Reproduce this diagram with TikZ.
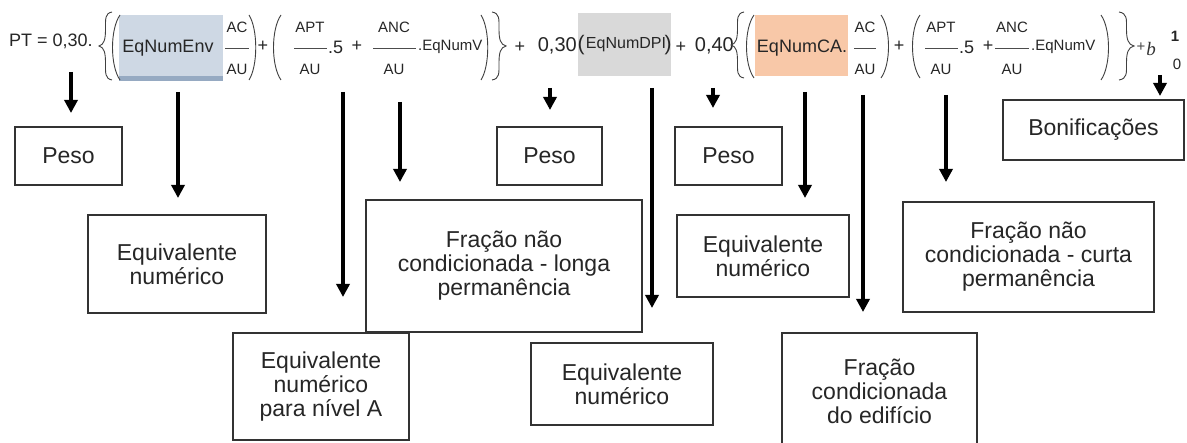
\documentclass[tikz,border=0pt]{standalone}
\usepackage{fontspec}
\setmainfont{Liberation Sans}
\newfontfamily\serifit{Liberation Serif}
\usetikzlibrary{arrows.meta}
\newcommand\drawBrace[4]{% tip x, open x, top, bottom
  \draw[delim] (#2,#3)
    .. controls ({#1+0.45*(#2-#1)},{#3+0.02*(#4-#3)}) and ({#1+0.5*(#2-#1)},{#3+0.1*(#4-#3)}) .. ({#1+0.5*(#2-#1)},{#3+0.25*(#4-#3)})
    .. controls ({#1+0.5*(#2-#1)},{#3+0.4*(#4-#3)}) and ({#1+0.4*(#2-#1)},{#3+0.48*(#4-#3)}) .. (#1,{(#3+#4)/2})
    .. controls ({#1+0.4*(#2-#1)},{#3+0.52*(#4-#3)}) and ({#1+0.5*(#2-#1)},{#3+0.6*(#4-#3)}) .. ({#1+0.5*(#2-#1)},{#3+0.75*(#4-#3)})
    .. controls ({#1+0.5*(#2-#1)},{#3+0.9*(#4-#3)}) and ({#1+0.45*(#2-#1)},{#3+0.98*(#4-#3)}) .. (#2,#4);}
\newcommand\drawParen[4]{% bulge x, end x, top, bottom
  \draw[delim] (#2,#3) .. controls (#1,{#3+0.22*(#4-#3)}) and (#1,{#4-0.22*(#4-#3)}) .. (#2,#4);}
\begin{document}
\begin{tikzpicture}[x=1pt,y=-1pt,
  lbl/.style={draw=black!80, line width=1.2pt, align=center,
    font=\fontsize{23}{24}\selectfont, text=black!85, inner sep=0pt},
  eq/.style={inner sep=0pt, font=\fontsize{18}{18}\selectfont, text=black!85},
  eqb/.style={inner sep=0pt, font=\fontsize{20}{20}\selectfont, text=black!85},
  eqs/.style={inner sep=0pt, font=\fontsize{15}{15}\selectfont, text=black!85},
  fr/.style={inner sep=0pt, font=\fontsize{15}{15}\selectfont, text=black!85},
  fracline/.style={line width=0.8pt, draw=black!70},
  arr/.style={line width=3.5pt, draw=black, -{Triangle[width=13pt,length=13pt]}},
  delim/.style={line width=0.9pt, draw=black!75},
]
\fill[white] (0,0) rectangle (1187,443);
\useasboundingbox (0,0) rectangle (1187,443);
\clip (0,0) rectangle (1187,443);

% coloured boxes of the equation
\fill[fill={rgb,255:red,206;green,216;blue,228}] (119,15) rectangle (223,81);
\fill[fill={rgb,255:red,150;green,170;blue,194}] (119,76) rectangle (223,81);
\fill[fill={rgb,255:red,217;green,217;blue,217}] (578,13) rectangle (671,76);
\fill[fill={rgb,255:red,248;green,200;blue,168}] (755,15) rectangle (848,76);

% equation text
\node[eq, anchor=west] (pt) at (9,41) {PT = 0,30.};
\drawBrace{99}{112}{12}{80}
\drawParen{110}{120}{15}{80}
\node[eq] (env) at (168,48) {EqNumEnv};
\node[fr] (n1) at (237,27) {AC};
\node[fr] (d1) at (237,69) {AU};
\draw[fracline] (225,48) -- (249,48);
\drawParen{258}{249}{15}{80}
\node[eq] (p1) at (263,46) {+};
\drawParen{271}{281}{15}{80}
\node[fr] (n2) at (310,27) {APT};
\node[fr] (d2) at (310,69) {AU};
\draw[fracline] (294,48) -- (327,48);
\node[eq, anchor=west] (f1) at (328,47) {.5};
\node[eq] (p2) at (357,46) {+};
\node[fr] (n3) at (394,27) {ANC};
\node[fr] (d3) at (394,69) {AU};
\draw[fracline] (373,48) -- (416,48);
\node[eqs, anchor=west] (v1) at (418,47) {.EqNumV};
\drawParen{490}{481}{15}{80}
\drawBrace{506}{492}{12}{80}
\node[eq] (p3) at (520,47) {+};
\node[eqb, anchor=east] (w1) at (577,46) {0,30};
\node[inner sep=0pt, font=\fontsize{21}{21}\selectfont, text=black!85] (lp) at (581,45) {(};
\node[inner sep=0pt, font=\fontsize{16}{16}\selectfont, text=black!85] (dpi) at (626,45) {EqNumDPI};
\node[inner sep=0pt, font=\fontsize{21}{21}\selectfont, text=black!85] (rp) at (668,45) {)};
\node[eq] (p4) at (681,47) {+};
\node[eqb, anchor=east] (w2) at (734,46) {0,40};
\drawBrace{731}{744}{12}{78}
\drawParen{744}{754}{15}{78}
\node[eq] (ca) at (802,48) {EqNumCA.};
\node[fr] (n4) at (865,27) {AC};
\node[fr] (d4) at (865,69) {AU};
\draw[fracline] (854,48) -- (876,48);
\drawParen{891}{881}{15}{78}
\node[eq] (p5) at (899,46) {+};
\drawParen{910}{920}{15}{78}
\node[fr] (n5) at (941,27) {APT};
\node[fr] (d5) at (941,69) {AU};
\draw[fracline] (925,48) -- (958,48);
\node[eq, anchor=west] (f2) at (959,47) {.5};
\node[eq] (p6) at (988,46) {+};
\node[fr] (n6) at (1012,27) {ANC};
\node[fr] (d6) at (1012,69) {AU};
\draw[fracline] (995,48) -- (1029,48);
\node[eqs, anchor=west] (v2) at (1031,47) {.EqNumV};
\drawParen{1111}{1101}{15}{80}
\drawBrace{1134}{1119}{12}{80}
\node[inner sep=0pt, font=\fontsize{15}{15}\selectfont, text=black!70] (p7) at (1141,47) {+};
\node[inner sep=0pt, font=\fontsize{19}{19}\selectfont\serifit\itshape, text=black!80] (b) at (1151,49) {b};
\node[inner sep=0pt, font=\fontsize{15}{15}\selectfont\bfseries, text=black!85] (s1) at (1175,36) {1};
\node[inner sep=0pt, font=\fontsize{15}{15}\selectfont, text=black!85] (s0) at (1177,64) {0};

% label boxes
\node[lbl, minimum width=107pt, minimum height=58pt] (peso1) at (68.5,156) {Peso};
\node[lbl, minimum width=178pt, minimum height=98pt] (equiv1) at (177,264) {Equivalente\\numérico};
\node[lbl, minimum width=176pt, minimum height=107pt] (equivA) at (321,386.5) {Equivalente\\numérico\\para nível A};
\node[lbl, minimum width=276pt, minimum height=132pt] (fracL) at (504,266) {Fração não\\condicionada - longa\\permanência};
\node[lbl, minimum width=105pt, minimum height=58pt] (peso2) at (549.5,156) {Peso};
\node[lbl, minimum width=182pt, minimum height=82pt] (equiv2) at (622,384) {Equivalente\\numérico};
\node[lbl, minimum width=107pt, minimum height=58pt] (peso3) at (728.5,156) {Peso};
\node[lbl, minimum width=172pt, minimum height=82pt] (equiv3) at (763,256) {Equivalente\\numérico};
\node[lbl, minimum width=195pt, minimum height=117pt] (fracC) at (879.5,391.5) {Fração\\condicionada\\do edifício};
\node[lbl, minimum width=251pt, minimum height=110pt] (fracS) at (1028.5,257) {Fração não\\condicionada - curta\\permanência};
\node[lbl, minimum width=181pt, minimum height=60pt] (bonif) at (1093.5,130) {Bonificações};

% arrow end points
\coordinate (a1s) at (71,72);    \coordinate (a1e) at (71,113);
\coordinate (a2s) at (178,92);   \coordinate (a2e) at (178,198);
\coordinate (a3s) at (343,92);   \coordinate (a3e) at (343,297);
\coordinate (a4s) at (400,102);  \coordinate (a4e) at (400,182);
\coordinate (a5s) at (550,88);   \coordinate (a5e) at (550,110);
\coordinate (a6s) at (652,88);   \coordinate (a6e) at (652,308);
\coordinate (a7s) at (713,88);   \coordinate (a7e) at (713,108);
\coordinate (a8s) at (805,92);   \coordinate (a8e) at (805,198);
\coordinate (a9s) at (863,95);   \coordinate (a9e) at (863,312);
\coordinate (a10s) at (946,95);  \coordinate (a10e) at (946,182);
\coordinate (a11s) at (1160,75); \coordinate (a11e) at (1160,96);

\foreach \i in {1,...,11} { \draw[arr] (a\i s) -- (a\i e); }
\end{tikzpicture}
\end{document}
